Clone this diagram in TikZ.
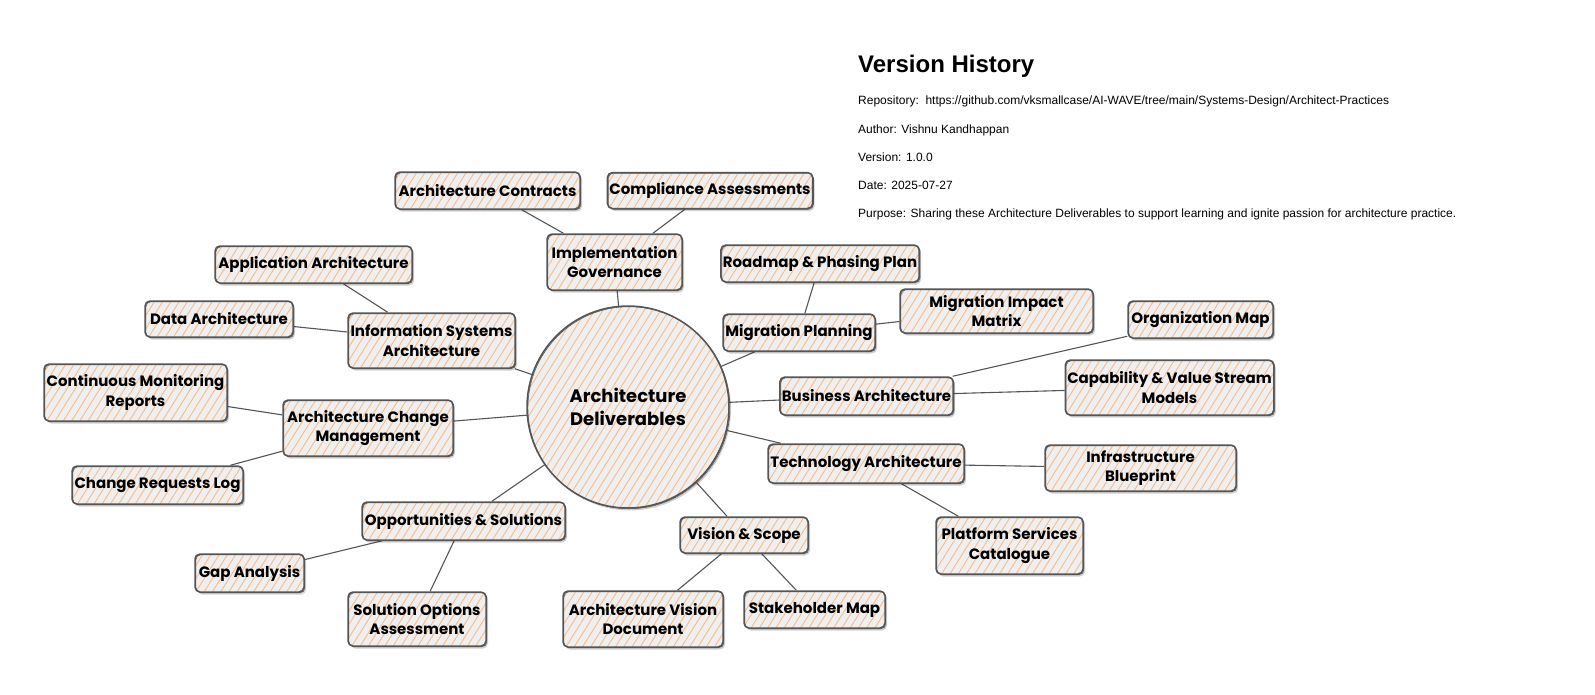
\documentclass[tikz,border=0pt]{standalone}
\usepackage{fontspec}
\newfontfamily\handfont{Poppins}
\newfontfamily\vhfont{Liberation Sans}
\usetikzlibrary{patterns.meta,shadows}
\definecolor{ink}{HTML}{555555}
\definecolor{hatch}{HTML}{F5BD8A}
\definecolor{paper}{HTML}{EFEFEF}
\pgfdeclarelayer{bg}
\pgfsetlayers{bg,main}
\tikzset{
  sketch/.style={draw=ink, line width=1.5pt,
    drop shadow={shadow xshift=2pt, shadow yshift=-2.5pt, opacity=0.18, fill=black},
    preaction={fill=paper},
    pattern={Lines[angle=58,distance=7pt,line width=0.9pt]}, pattern color=hatch,
    postaction={draw=ink, line width=0.6pt, transform canvas={shift={(0.9pt,-0.7pt)}}}},
  box/.style={sketch, rounded corners=5pt, font=\handfont\bfseries\fontsize{15}{19.5}\selectfont,
    align=center, inner sep=2pt},
  hub/.style={sketch, circle, minimum size=202pt, inner sep=0pt,
    font=\handfont\bfseries\fontsize{18}{23}\selectfont, align=center},
  link/.style={draw=ink, line width=1.1pt},
  vhtitle/.style={anchor=base west, inner sep=0pt, font=\vhfont\bfseries\fontsize{24}{28}\selectfont},
  vhtext/.style={anchor=base west, inner sep=0pt, font=\vhfont\fontsize{12}{14}\selectfont},
}
\begin{document}
\begin{tikzpicture}[x=1pt,y=-1pt]
\useasboundingbox (0,0) rectangle (1595,694);

% hub
\node[hub] (hub) at (628,407) {Architecture\\Deliverables};

% nodes
\node[box, minimum width=185pt, minimum height=37pt] (ac)   at (487.5,190.5) {Architecture Contracts};
\node[box, minimum width=196pt, minimum height=36pt] (ca)   at (710,190.5)   {Compliance Assessments};
\node[box, minimum width=135pt, minimum height=56pt] (ig)   at (614.5,262)   {Implementation\\Governance};
\node[box, minimum width=197pt, minimum height=37pt] (appa) at (313.5,264.5) {Application Architecture};
\node[box, minimum width=148pt, minimum height=36pt] (da)   at (219,319)     {Data Architecture};
\node[box, minimum width=167pt, minimum height=55pt] (isa)  at (431.5,340.5) {Information Systems\\Architecture};
\node[box, minimum width=183pt, minimum height=57pt] (cmr)  at (135.5,392.5) {Continuous Monitoring\\Reports};
\node[box, minimum width=170pt, minimum height=56pt] (acm)  at (368,428)     {Architecture Change\\Management};
\node[box, minimum width=171pt, minimum height=38pt] (crl)  at (157.5,485)   {Change Requests Log};
\node[box, minimum width=203pt, minimum height=38pt] (os)   at (463.5,521)   {Opportunities \& Solutions};
\node[box, minimum width=109pt, minimum height=38pt] (ga)   at (249.5,573)   {Gap Analysis};
\node[box, minimum width=138pt, minimum height=54pt] (soa)  at (417,619)     {Solution Options\\Assessment};
\node[box, minimum width=128pt, minimum height=36pt] (vs)   at (744,535)     {Vision \& Scope};
\node[box, minimum width=160pt, minimum height=56pt] (avd)  at (643,619)     {Architecture Vision\\Document};
\node[box, minimum width=141pt, minimum height=37pt] (sm)   at (814.5,609.5) {Stakeholder Map};
\node[box, minimum width=196pt, minimum height=37pt] (rpp)  at (820,263.5)   {Roadmap \& Phasing Plan};
\node[box, minimum width=152pt, minimum height=37pt] (mp)   at (799,332.5)   {Migration Planning};
\node[box, minimum width=193pt, minimum height=44pt] (mim)  at (996.5,311)   {Migration Impact\\Matrix};
\node[box, minimum width=145pt, minimum height=37pt] (om)   at (1200.5,319.5){Organization Map};
\node[box, minimum width=173pt, minimum height=38pt] (ba)   at (866.5,396)   {Business Architecture};
\node[box, minimum width=207pt, minimum height=55pt] (cvsm) at (1169.5,387.5){Capability \& Value Stream\\Models};
\node[box, minimum width=196pt, minimum height=39pt] (ta)   at (866,463.5)   {Technology Architecture};
\node[box, minimum width=191pt, minimum height=46pt] (ib)   at (1140.5,468)  {Infrastructure\\Blueprint};
\node[box, minimum width=147pt, minimum height=57pt] (psc)  at (1009.5,545.5){Platform Services\\Catalogue};

% connectors
\begin{pgfonlayer}{bg}
\fill[white] (0,0) rectangle (1595,694);
\draw[link] (hub) -- (ig);
\draw[link] (ig) -- (ac);
\draw[link] (ig) -- (ca);
\draw[link] (hub) -- (isa);
\draw[link] (isa) -- (appa);
\draw[link] (isa) -- (da);
\draw[link] (hub) -- (acm);
\draw[link] (acm) -- (cmr);
\draw[link] (acm) -- (crl);
\draw[link] (hub) -- (os);
\draw[link] (os) -- (ga);
\draw[link] (os) -- (soa);
\draw[link] (hub) -- (vs);
\draw[link] (vs) -- (avd);
\draw[link] (vs) -- (sm);
\draw[link] (hub) -- (mp);
\draw[link] (mp) -- (rpp);
\draw[link] (mp) -- (mim);
\draw[link] (hub) -- (ba);
\draw[link] (ba) -- (om);
\draw[link] (ba) -- (cvsm);
\draw[link] (hub) -- (ta);
\draw[link] (ta) -- (ib);
\draw[link] (ta) -- (psc);
\end{pgfonlayer}

% version history
\node[vhtitle] (vh) at (858,72) {Version History};
\node[vhtext] (repo) at (858,104) {Repository:\ \ https://github.com/vksmallcase/AI-WAVE/tree/main/Systems-Design/Architect-Practices};
\node[vhtext] (author) at (858,133) {Author: Vishnu Kandhappan};
\node[vhtext] (version) at (858,161) {Version: 1.0.0};
\node[vhtext] (date) at (858,189) {Date: 2025-07-27};
\node[vhtext] (purpose) at (858,217) {Purpose: Sharing these Architecture Deliverables to support learning and ignite passion for architecture practice.};
\end{tikzpicture}
\end{document}
